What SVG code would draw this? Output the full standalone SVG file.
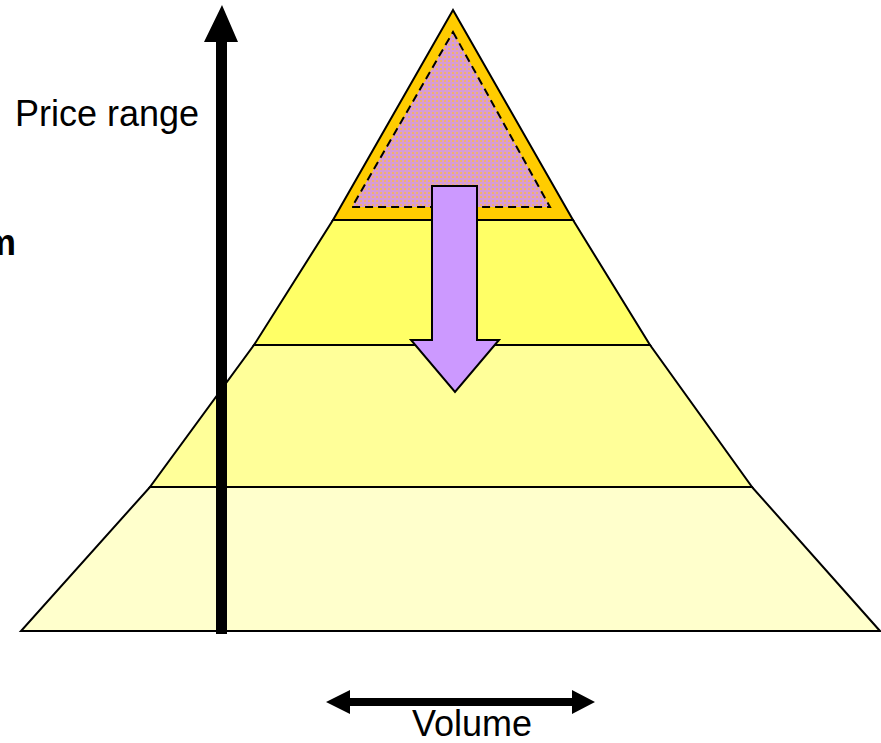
<svg xmlns="http://www.w3.org/2000/svg" width="881" height="743" viewBox="0 0 881 743">
<style>
.tier{stroke:#000;stroke-width:2;stroke-linejoin:miter}
.lbl{font-family:"Liberation Sans",Arial,sans-serif;fill:#000}
</style>
<defs>
<pattern id="dots" width="4" height="4" patternUnits="userSpaceOnUse">
<rect width="4" height="4" fill="#D89CD4"/>
<rect x="0" y="0" width="2" height="2" fill="#F0B070"/>
</pattern>
</defs>
<rect width="881" height="743" fill="#fff"/>
<g id="tier4"><polygon class="tier" points="150,487 752,487 880,631 21,631" fill="#FFFFCC"/></g>
<g id="tier3"><polygon class="tier" points="254,345 650,345 752,487 150,487" fill="#FFFF99"/></g>
<g id="tier2"><polygon class="tier" points="333,220 573,220 650,345 254,345" fill="#FFFF66"/></g>
<g id="tier1">
<polygon class="tier" points="453,10 573,220 333,220" fill="#FFCC00"/>
<polygon points="453,32 550,207 352,207" fill="url(#dots)" stroke="#000" stroke-width="2" stroke-dasharray="8,5"/>
</g>
<g id="connectors">
<polygon id="down-arrow" points="432,186 477,186 477,340 499,340 455,392 411,340 432,340" fill="#CC99FF" stroke="#000" stroke-width="2" stroke-linejoin="miter"/>
<polygon id="price-axis" points="216,634 227,634 227,42 238,42 222,5 204,42 216,42" fill="#000"/>
<polygon id="volume-axis" points="326,702 350,690 350,698 572,698 572,690 595,702 572,714 572,706 350,706 350,714" fill="#000"/>
</g>
<g id="labels">
<text class="lbl" x="15" y="126" font-size="36">Price range</text>
<text class="lbl" x="412" y="736" font-size="36">Volume</text>
<text class="lbl" x="16" y="255" font-size="36" font-weight="bold" text-anchor="end">m</text>
</g>
</svg>
